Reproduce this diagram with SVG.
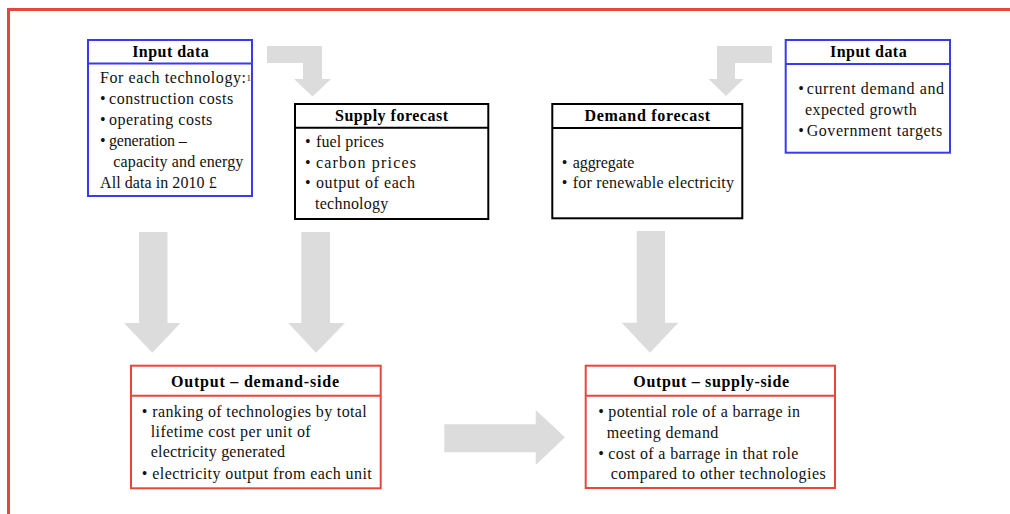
<svg xmlns="http://www.w3.org/2000/svg" width="1010" height="514" viewBox="0 0 1010 514">
<style>
.box{fill:#fff;stroke-width:2}
.blue{stroke:#3a3af2}
.black{stroke:#000}
.red{stroke:#e8453c}
.t{font-family:"Liberation Serif","Times New Roman",serif;font-size:16px;fill:#111}
.sup{font-family:"Liberation Serif","Times New Roman",serif;font-size:9px;fill:#111}
.h{font-family:"Liberation Serif","Times New Roman",serif;font-size:16px;font-weight:bold;fill:#000;text-anchor:middle}
.arrow{fill:#dcdcdc}
</style>
<rect width="1010" height="514" fill="#fff"/>
<path d="M8.5 514 V9.5 H1010" fill="none" stroke="#e8453c" stroke-width="3"/>
<g id="connectors">
<path class="arrow" d="M267 46 H322 V79 H331 L312.5 96.5 L294 79 H303 V63 H267 Z"/>
<path class="arrow" d="M772 46 V63 H735 V79 H743.5 L726 96 L708.5 79 H717 V46 Z"/>
<path class="arrow" d="M139 232 H167.5 V323 H180.5 L152.3 352.7 L124 323 H139 Z"/>
<path class="arrow" d="M301.3 232 H330 V323 H345 L316 352.7 L288.3 323 H301.3 Z"/>
<path class="arrow" d="M636.7 231 H665 V322.7 H678.3 L650 352.7 L621.7 322.7 H636.7 Z"/>
<path class="arrow" d="M444.3 424.3 H535.7 V410 L565 437.3 L535.7 465 V452.3 H444.3 Z"/>
</g>
<g id="input-left">
<rect class="box blue" x="88" y="40" width="164" height="156"/>
<line class="blue" x1="88" y1="63.5" x2="252" y2="63.5" stroke-width="2"/>
<text class="h" x="170.5" y="57" textLength="76.7">Input data</text>
<text class="t" x="100" y="83" textLength="146">For each technology:</text>
<text class="sup" x="246.5" y="81">1</text>
<text class="t" x="100" y="104">•</text>
<text class="t" x="109" y="104" textLength="124.3">construction costs</text>
<text class="t" x="100" y="125">•</text>
<text class="t" x="109" y="125" textLength="103.3">operating costs</text>
<text class="t" x="100" y="146">•</text>
<text class="t" x="109" y="146" textLength="77.7">generation –</text>
<text class="t" x="113.3" y="167" textLength="130">capacity and energy</text>
<text class="t" x="100" y="188" textLength="116.7">All data in 2010 £</text>
</g>
<g id="supply-forecast">
<rect class="box black" x="295" y="104" width="193.3" height="115"/>
<line class="black" x1="295" y1="127.7" x2="488.3" y2="127.7" stroke-width="2"/>
<text class="h" x="391.5" y="121" textLength="113">Supply forecast</text>
<text class="t" x="305" y="147">•</text>
<text class="t" x="316" y="147" textLength="68">fuel prices</text>
<text class="t" x="305" y="167.5">•</text>
<text class="t" x="316" y="167.5" textLength="100">carbon prices</text>
<text class="t" x="305" y="187.5">•</text>
<text class="t" x="316" y="187.5" textLength="99">output of each</text>
<text class="t" x="315" y="208.5" textLength="73.3">technology</text>
</g>
<g id="demand-forecast">
<rect class="box black" x="552.3" y="104" width="190" height="114.3"/>
<line class="black" x1="552.3" y1="128" x2="742.3" y2="128" stroke-width="2"/>
<text class="h" x="647.3" y="121" textLength="125.7">Demand forecast</text>
<text class="t" x="561.7" y="167.5">•</text>
<text class="t" x="572.7" y="167.5" textLength="61.6">aggregate</text>
<text class="t" x="561.7" y="187.5">•</text>
<text class="t" x="572.7" y="187.5" textLength="161.3">for renewable electricity</text>
</g>
<g id="input-right">
<rect class="box blue" x="785.7" y="40" width="164.3" height="112.7"/>
<line class="blue" x1="785.7" y1="64" x2="950" y2="64" stroke-width="2"/>
<text class="h" x="868.3" y="57" textLength="76.7">Input data</text>
<text class="t" x="798.3" y="93.5">•</text>
<text class="t" x="806.7" y="93.5" textLength="137.3">current demand and</text>
<text class="t" x="805" y="114.5" textLength="111.7">expected growth</text>
<text class="t" x="798.3" y="135.5">•</text>
<text class="t" x="806.7" y="135.5" textLength="135.6">Government targets</text>
</g>
<g id="output-demand">
<rect class="box red" x="131" y="365.7" width="249.7" height="122.6"/>
<line class="red" x1="131" y1="395.7" x2="380.7" y2="395.7" stroke-width="2"/>
<text class="h" x="255" y="387" textLength="168">Output – demand-side</text>
<text class="t" x="141.7" y="417">•</text>
<text class="t" x="152.3" y="417" textLength="214.4">ranking of technologies by total</text>
<text class="t" x="150.7" y="437" textLength="160">lifetime cost per unit of</text>
<text class="t" x="150.7" y="457" textLength="134.3">electricity generated</text>
<text class="t" x="141.7" y="478.5">•</text>
<text class="t" x="152.3" y="478.5" textLength="219.4">electricity output from each unit</text>
</g>
<g id="output-supply">
<rect class="box red" x="585.7" y="365.7" width="249.3" height="122.3"/>
<line class="red" x1="585.7" y1="395.7" x2="835" y2="395.7" stroke-width="2"/>
<text class="h" x="711.2" y="387" textLength="155.7">Output – supply-side</text>
<text class="t" x="598.3" y="417">•</text>
<text class="t" x="608.3" y="417" textLength="191.7">potential role of a barrage in</text>
<text class="t" x="606.7" y="437.5" textLength="111.6">meeting demand</text>
<text class="t" x="598.3" y="458.5">•</text>
<text class="t" x="608.3" y="458.5" textLength="190">cost of a barrage in that role</text>
<text class="t" x="610.7" y="478.5" textLength="215">compared to other technologies</text>
</g>
</svg>
